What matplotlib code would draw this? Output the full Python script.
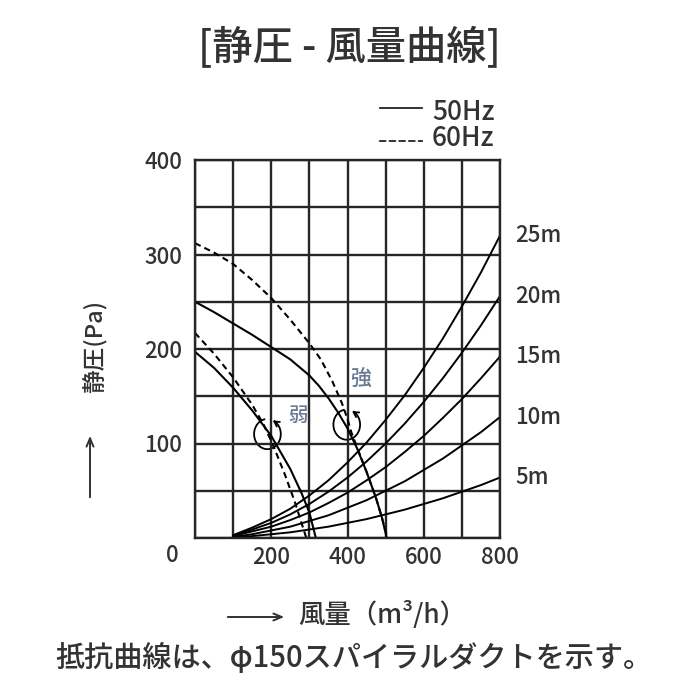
import matplotlib
matplotlib.use('Agg')
import matplotlib.pyplot as plt
from matplotlib.patches import Arc

plt.rcParams['font.family'] = ['Noto Sans CJK JP', 'DejaVu Sans']
plt.rcParams['font.weight'] = 'medium'

TEXT = '#333333'
INK = '#262626'
MARK = '#6b7a93'

# fan curves: airflow (m3/h) vs static pressure (Pa)
q_strong_50 = [0, 50, 100, 150, 200, 250, 300, 325, 350, 375, 400, 425, 450, 475, 490, 503]
p_strong_50 = [250, 239, 227, 215, 202, 189, 172, 161, 148, 133, 116, 95, 70, 42, 22, 0]
q_strong_60 = [0, 50, 100, 150, 200, 250, 300, 330, 360, 385, 400, 410, 425, 450, 475, 490, 505]
p_strong_60 = [312, 302, 290, 273, 254, 231, 206, 189, 166, 143, 126, 112, 96, 70, 42, 22, 0]
q_weak_50 = [0, 50, 100, 150, 200, 250, 280, 300, 317]
p_weak_50 = [197, 180, 159, 135, 108, 73, 47, 27, 0]
q_weak_60 = [0, 50, 100, 150, 180, 205, 235, 262, 292]
p_weak_60 = [217, 195, 170, 141, 120, 98, 68, 38, 0]

# duct resistance curves (phi150 spiral duct)
q_duct = [100, 150, 200, 250, 300, 350, 400, 450, 500, 550, 600, 650, 700, 750, 800]
duct_lengths = ['25m', '20m', '15m', '10m', '5m']
p_duct_25 = [3, 11, 20, 31, 45, 61, 80, 101, 125, 151, 180, 211, 245, 281, 320]
p_duct_20 = [2, 9, 16, 25, 36, 49, 64, 81, 100, 121, 144, 169, 196, 225, 256]
p_duct_15 = [2, 7, 12, 19, 27, 37, 48, 61, 75, 91, 108, 127, 147, 169, 192]
p_duct_10 = [1, 4, 8, 12, 18, 24, 32, 40, 50, 60, 72, 84, 98, 112, 128]
p_duct_5 = [0, 2, 4, 6, 9, 12, 16, 20, 25, 30, 36, 42, 49, 56, 64]

x_ticks = [0, 100, 200, 300, 400, 500, 600, 700, 800]
x_labels = ['', '', '200', '', '400', '', '600', '', '800']
y_ticks = [0, 50, 100, 150, 200, 250, 300, 350, 400]
y_labels = ['', '', '100', '', '200', '', '300', '', '400']

fig = plt.figure(figsize=(7, 7), dpi=100)
ax = fig.add_axes([195 / 700, 1 - 538 / 700, 305 / 700, 378 / 700])
ax.set_xlim(0, 800)
ax.set_ylim(0, 400)
ax.set_xticks(x_ticks)
ax.set_xticklabels(x_labels)
ax.set_yticks(y_ticks)
ax.set_yticklabels(y_labels)
ax.tick_params(length=0, labelsize=16, labelcolor=TEXT)
ax.tick_params(axis='x', pad=6)
ax.tick_params(axis='y', pad=9)
ax.grid(True, color=INK, lw=1.7)
for s in ax.spines.values():
    s.set_color(INK)
    s.set_linewidth(1.7)

lw = 1.5
ax.plot(q_strong_50, p_strong_50, color='black', lw=lw)
ax.plot(q_strong_60, p_strong_60, color='black', lw=lw, ls=(0, (3, 2)))
ax.plot(q_weak_50, p_weak_50, color='black', lw=lw)
ax.plot(q_weak_60, p_weak_60, color='black', lw=lw, ls=(0, (3, 2)))

for name, p in zip(duct_lengths, [p_duct_25, p_duct_20, p_duct_15, p_duct_10, p_duct_5]):
    ax.plot(q_duct, p, color='black', lw=1.4)
    ax.annotate(name, xy=(q_duct[-1], p[-1]), xytext=(11, 0), textcoords='offset points',
                va='center', ha='left', fontsize=16, color=TEXT, annotation_clip=False)

# 強 / 弱 marks with curled arrows
ax.text(435, 168, '強', fontsize=15, color=MARK, ha='center', va='center')
ax.text(271, 130, '弱', fontsize=14, color=MARK, ha='center', va='center')
for cx, cy in [(398, 120), (190, 110)]:
    ax.add_patch(Arc((cx, cy), 70, 32, theta1=110, theta2=400, color='black', lw=1.3))
    ax.annotate('', xy=(cx + 8, cy + 16), xytext=(cx + 30, cy + 10),
                arrowprops=dict(arrowstyle='->,head_length=0.35,head_width=0.2',
                                color='black', lw=1.3))

fig.text(172 / 700, 1 - 555 / 700, '0', fontsize=16, color=TEXT, ha='center', va='center')

# title and legend
fig.text(349 / 700, 1 - 48 / 700, '[静圧 - 風量曲線]', fontsize=29, color=TEXT,
         ha='center', va='center')
ax.annotate('', xy=(425 / 700, 1 - 108 / 700), xytext=(377 / 700, 1 - 108 / 700),
            xycoords='figure fraction',
            arrowprops=dict(arrowstyle='-', color=TEXT, lw=1.4))
ax.annotate('', xy=(425 / 700, 1 - 141 / 700), xytext=(377 / 700, 1 - 141 / 700),
            xycoords='figure fraction',
            arrowprops=dict(arrowstyle='-', color=TEXT, lw=1.4, ls=(0, (3, 2))))
fig.text(432 / 700, 1 - 113 / 700, '50Hz', fontsize=19, color=TEXT, ha='left', va='center')
fig.text(432 / 700, 1 - 138 / 700, '60Hz', fontsize=19, color=TEXT, ha='left', va='center')

# axis labels with arrows
fig.text(95 / 700, 1 - 346 / 700, '静圧(Pa)', rotation=90, fontsize=17, color=TEXT,
         ha='center', va='center')
ax.annotate('', xy=(90 / 700, 1 - 433 / 700), xytext=(90 / 700, 1 - 500 / 700),
            xycoords='figure fraction',
            arrowprops=dict(arrowstyle='->,head_length=0.6,head_width=0.25', color=TEXT, lw=1.4))
ax.annotate('', xy=(287 / 700, 1 - 617 / 700), xytext=(225 / 700, 1 - 617 / 700),
            xycoords='figure fraction',
            arrowprops=dict(arrowstyle='->,head_length=0.6,head_width=0.25', color=TEXT, lw=1.4))
fig.text(298 / 700, 1 - 615 / 700, '風量（m³/h）', fontsize=19, color=TEXT, ha='left', va='center')

fig.text(354 / 700, 1 - 658 / 700, '抵抗曲線は、φ150スパイラルダクトを示す。', fontsize=21,
         color=TEXT, ha='center', va='center')

fig.savefig('out.png', dpi=100, facecolor='white')
